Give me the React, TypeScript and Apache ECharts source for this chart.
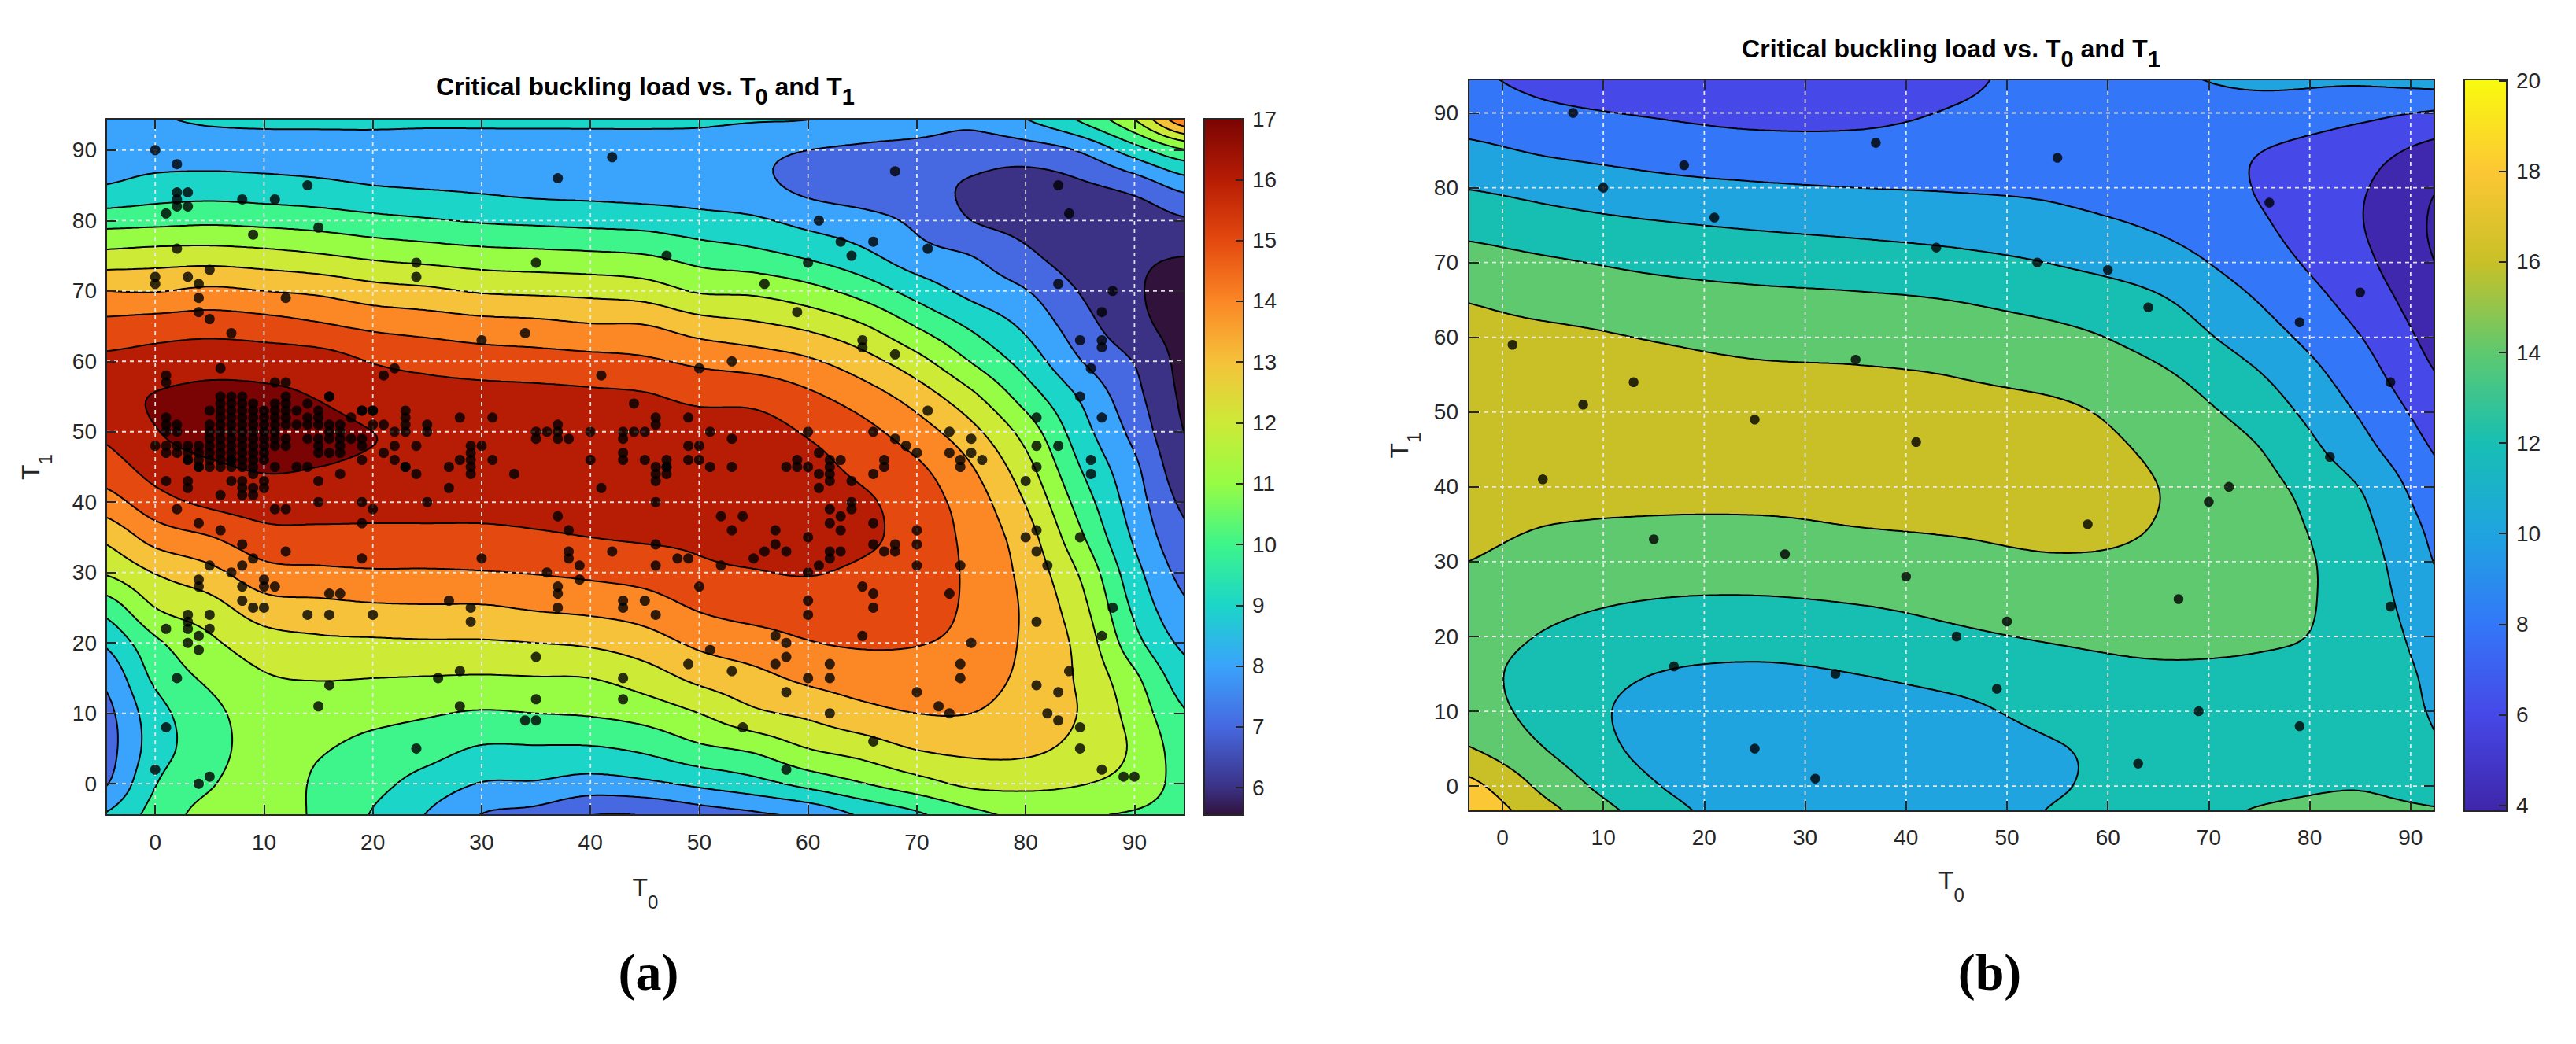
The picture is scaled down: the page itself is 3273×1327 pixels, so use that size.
import React, { useEffect, useRef } from "react";
import * as echarts from "echarts";

// ================= Plot (a) data =================
const A_T0_NODES = [-5, 0, 5, 10, 15, 20, 25, 30, 35, 40, 45, 50, 55, 60, 65, 70, 75, 80, 85, 90, 95];
const A_T1_NODES = [95, 90, 85, 80, 75, 70, 65, 60, 55, 50, 45, 40, 35, 30, 25, 20, 15, 10, 5, 0, -5];
// one column per T0 node: critical buckling load at each T1 node
const A_LOAD = [
  [8.8, 8.6, 9.0, 10.6, 12.3, 14.0, 15.3, 16.2, 16.6, 16.15, 15.5, 14.5, 13.15, 12.05, 10.3, 9.05, 8.1, 7.6, 7.5, 7.8, 9.1],
  [8.95, 8.6, 9.35, 10.7, 12.45, 13.95, 15.5, 16.4, 17.05, 16.95, 16.4, 15.6, 14.4, 13.05, 12.0, 10.8, 10.2, 9.6, 9.5, 9.95, 10.4],
  [9.2, 8.6, 9.45, 10.8, 12.5, 14.2, 15.6, 16.6, 17.25, 17.4, 16.85, 16.2, 14.95, 13.7, 12.6, 11.8, 11.2, 10.7, 10.6, 10.9, 11.4],
  [9.3, 8.6, 9.35, 10.7, 12.35, 14.0, 15.45, 16.55, 17.2, 17.45, 17.1, 16.45, 15.65, 14.65, 13.55, 12.55, 11.9, 11.5, 11.4, 11.5, 11.6],
  [9.3, 8.6, 9.2, 10.55, 12.1, 13.8, 15.15, 16.45, 16.95, 17.3, 17.0, 16.45, 15.7, 14.8, 13.7, 12.8, 12.05, 11.5, 11.1, 10.85, 10.8],
  [9.3, 8.6, 9.0, 10.3, 11.8, 13.4, 14.8, 15.95, 16.5, 17.0, 16.85, 16.4, 15.7, 14.9, 13.85, 12.85, 12.0, 11.3, 10.7, 10.3, 9.9],
  [9.3, 8.5, 8.9, 10.1, 11.6, 13.2, 14.6, 15.7, 16.4, 16.85, 16.8, 16.4, 15.7, 14.9, 13.9, 12.9, 11.95, 11.1, 10.4, 9.6, 8.9],
  [9.3, 8.5, 8.8, 9.9, 11.4, 12.9, 14.4, 15.5, 16.35, 16.75, 16.7, 16.4, 15.7, 14.95, 13.9, 12.9, 11.9, 10.9, 9.9, 8.95, 7.9],
  [9.3, 8.5, 8.65, 9.8, 11.3, 12.8, 14.3, 15.4, 16.3, 16.7, 16.65, 16.4, 15.85, 15.05, 14.1, 13.0, 11.95, 11.0, 9.9, 8.9, 7.6],
  [9.3, 8.5, 8.6, 9.7, 11.2, 12.7, 14.1, 15.3, 16.2, 16.65, 16.6, 16.4, 16.0, 15.2, 14.25, 13.15, 12.0, 11.1, 9.9, 8.6, 6.9],
  [9.3, 8.5, 8.5, 9.6, 11.05, 12.5, 14.05, 15.15, 16.1, 16.6, 16.6, 16.35, 16.1, 15.4, 14.5, 13.55, 12.5, 11.4, 10.2, 8.8, 6.9],
  [9.25, 8.5, 8.45, 9.35, 10.6, 11.9, 13.5, 14.8, 15.75, 16.5, 16.55, 16.35, 16.15, 15.8, 15.1, 14.2, 13.25, 12.0, 10.8, 9.2, 7.4],
  [9.15, 8.25, 8.25, 9.15, 10.3, 11.8, 13.2, 14.55, 15.7, 16.4, 16.6, 16.55, 16.35, 15.95, 15.4, 14.55, 13.7, 12.8, 11.2, 9.65, 7.7],
  [9.1, 8.0, 7.75, 8.7, 9.85, 11.35, 12.8, 14.15, 15.2, 15.9, 16.3, 16.45, 16.35, 16.05, 15.5, 14.95, 14.2, 13.2, 12.0, 10.3, 8.1],
  [8.7, 7.85, 7.45, 8.35, 9.25, 10.6, 12.1, 13.4, 14.5, 15.3, 15.75, 16.15, 16.15, 15.85, 15.45, 15.1, 14.45, 13.7, 12.45, 10.95, 9.0],
  [8.6, 7.7, 7.3, 7.8, 8.4, 9.6, 10.95, 12.35, 13.55, 14.45, 15.15, 15.5, 15.65, 15.6, 15.45, 15.05, 14.5, 14.0, 13.05, 11.6, 9.7],
  [8.3, 7.5, 6.9, 7.0, 8.0, 8.7, 9.85, 10.95, 12.25, 13.3, 14.05, 14.5, 14.7, 14.8, 14.8, 14.7, 14.45, 14.0, 13.25, 12.2, 10.6],
  [9.1, 7.55, 6.6, 6.7, 7.2, 8.05, 8.8, 9.6, 10.55, 11.6, 12.35, 12.95, 13.45, 13.7, 13.85, 13.85, 13.75, 13.5, 13.2, 12.25, 11.1],
  [10.3, 8.1, 6.85, 6.5, 6.5, 6.95, 7.45, 8.05, 8.9, 9.45, 10.0, 10.6, 11.2, 11.9, 12.35, 12.7, 12.85, 12.95, 12.7, 12.05, 11.0],
  [12.2, 9.55, 7.4, 6.4, 6.15, 6.1, 6.3, 6.95, 7.3, 7.7, 8.2, 8.5, 8.85, 9.35, 9.8, 10.35, 11.2, 11.6, 11.85, 11.6, 10.85],
  [15.3, 11.0, 8.45, 6.9, 6.0, 5.75, 5.65, 5.65, 5.75, 5.9, 6.2, 6.7, 7.15, 7.6, 8.1, 8.7, 9.35, 10.0, 10.4, 10.6, 10.6],
];
const A_LEVELS = [6, 7, 8, 9, 10, 11, 12, 13, 14, 15, 16, 17];
const A_RANGE_T0 = [-4.5, 94.6];
const A_RANGE_T1 = [-4.45, 94.45];
const A_TICKS = [0, 10, 20, 30, 40, 50, 60, 70, 80, 90];
const A_CBAR_RANGE = [5.55, 17.0];
const A_CBAR_TICKS = [6, 7, 8, 9, 10, 11, 12, 13, 14, 15, 16, 17];

// sample points: dense cluster listed column by column [T0, [T1...]]
const A_CLUSTER = [
  [0, [48]], [1, [52, 51, 50, 48, 47]], [2, [51, 50, 48, 47]], [3, [48, 47, 46]], [4, [48, 47, 46, 45]],
  [5, [53, 51, 50, 49, 48, 47, 46, 45]], [6, [55, 54, 53, 52, 51, 50, 49, 48, 47, 46, 45]],
  [7, [55, 54, 53, 52, 51, 50, 49, 48, 47, 46, 45]], [8, [55, 54, 53, 52, 51, 50, 49, 48, 47, 46, 45]],
  [9, [54, 53, 52, 51, 50, 49, 48, 47, 46, 45]], [10, [53, 52, 51, 50, 49, 48, 47, 46]],
  [11, [54, 53, 52, 51, 50, 49, 48]], [12, [55, 54, 53, 52, 51, 49, 48]], [13, [53, 51]],
  [14, [54, 52, 51, 49]], [15, [53, 52, 51, 49, 48, 47]], [16, [55, 51, 50, 49, 47]],
  [17, [51, 50, 49, 48, 47]], [18, [52, 49]], [19, [53, 49, 48, 46]], [20, [53, 51]],
  [21, [51, 47]], [22, [50, 48, 46]], [23, [53, 52, 51, 50, 45]], [24, [48]], [25, [51, 50]],
];
const A_POINTS_OTHER = [
  [0, 90], [2, 88], [2, 84], [2, 83], [2, 82], [3, 84], [3, 82], [1, 81], [8, 83], [11, 83], [14, 85], [15, 79],
  [9, 78], [2, 76], [24, 74], [24, 72], [35, 74], [37, 86], [42, 89], [47, 75], [0, 72], [0, 71], [3, 72], [5, 73],
  [4, 71], [4, 69], [4, 67], [5, 66], [7, 64], [12, 69], [30, 63], [34, 64], [6, 59], [1, 58], [1, 57], [21, 58],
  [22, 59], [11, 57], [12, 57], [41, 58], [16, 55], [44, 54], [19, 53], [20, 53], [28, 52], [31, 52], [46, 52], [46, 51],
  [28, 46], [29, 48], [29, 47], [29, 46], [29, 45], [30, 48], [31, 46], [27, 45], [33, 44], [35, 50], [35, 49], [36, 50],
  [37, 51], [37, 50], [37, 49], [38, 49], [40, 50], [40, 46], [43, 50], [43, 49], [43, 47], [43, 46], [44, 50], [45, 50],
  [45, 46], [46, 45], [47, 45],
  [3, 46], [7, 46], [4, 45], [11, 45], [13, 45], [14, 45], [23, 45], [9, 44], [17, 44], [24, 44], [29, 44], [46, 44],
  [1, 43], [3, 43], [7, 43], [8, 43], [10, 43], [15, 43], [46, 43], [3, 42], [8, 42], [9, 42], [10, 42], [27, 42], [41, 42],
  [6, 41], [8, 41], [9, 41], [15, 40], [19, 40], [25, 40], [46, 40], [2, 39], [11, 39], [12, 39], [20, 39], [37, 38],
  [4, 37], [19, 37], [6, 36], [38, 36], [8, 34], [46, 34], [12, 33], [38, 33], [42, 33], [9, 32], [19, 32], [30, 32],
  [38, 32], [5, 31], [8, 31], [39, 31], [46, 31], [7, 30], [36, 30], [4, 29], [10, 29], [39, 29], [4, 28], [8, 28],
  [10, 28], [11, 28], [37, 28], [16, 27], [17, 27], [37, 27], [8, 26], [27, 26], [43, 26], [45, 26], [9, 25], [10, 25],
  [29, 25], [37, 25], [43, 25], [3, 24], [5, 24], [14, 24], [16, 24], [20, 24], [46, 24], [3, 23], [29, 23], [1, 22],
  [3, 22], [5, 22], [4, 21], [3, 20], [4, 19], [35, 18], [28, 16], [2, 15], [26, 15], [43, 15], [16, 14], [35, 12],
  [43, 12], [15, 11], [28, 11], [34, 9], [35, 9], [1, 8], [24, 5], [0, 2], [5, 1], [4, 0],
  [68, 87], [83, 85], [84, 81], [61, 80], [63, 77], [66, 77], [64, 75], [71, 76], [60, 74], [56, 71], [59, 67],
  [83, 71], [88, 70], [87, 67], [65, 63], [65, 62], [68, 61], [85, 63], [87, 63], [87, 62], [53, 60], [50, 59], [86, 59],
  [85, 55], [71, 53], [81, 52], [87, 52], [49, 52], [51, 50], [60, 50], [66, 50], [73, 50], [53, 49], [49, 48], [50, 48],
  [68, 49], [69, 48], [75, 49], [81, 48], [83, 48], [61, 47], [62, 46], [63, 46], [70, 47], [73, 47], [75, 47], [76, 46],
  [86, 46], [47, 46], [49, 46], [50, 46], [58, 45], [59, 46], [59, 45], [60, 45], [67, 46], [67, 45], [74, 46], [74, 45],
  [51, 45], [53, 45], [47, 45], [81, 45], [47, 44], [61, 44], [61, 42], [62, 45], [62, 44], [62, 43], [64, 43], [66, 44],
  [62, 39], [63, 38], [62, 37], [63, 36], [64, 40], [64, 39], [66, 37], [52, 38], [54, 38], [53, 36], [57, 36], [56, 33],
  [57, 34], [58, 33], [60, 35], [62, 33], [63, 33], [62, 32], [48, 32], [49, 32], [52, 31], [55, 32], [60, 30], [61, 31],
  [66, 34], [67, 33], [68, 34], [68, 33], [70, 36], [70, 34], [70, 31], [74, 31], [50, 28], [65, 28], [66, 27], [66, 25],
  [73, 27], [60, 26], [60, 24], [57, 21], [58, 20], [58, 18], [65, 21], [75, 20], [51, 19], [49, 17], [53, 16], [57, 17],
  [62, 17], [62, 15], [60, 15], [58, 13], [74, 17], [74, 15], [70, 13], [72, 11], [73, 10], [62, 10], [54, 8], [66, 6],
  [58, 2], [80, 43], [86, 44], [81, 36], [80, 35], [81, 33], [82, 31], [85, 35], [88, 25], [81, 23], [87, 21], [84, 16],
  [81, 14], [83, 13], [82, 10], [83, 9], [85, 8], [85, 5], [87, 2], [89, 1], [90, 1],
];

// ================= Plot (b) data =================
const B_T0_NODES = [-5, 5, 15, 25, 35, 45, 55, 65, 75, 85, 95];
const B_T1_NODES = [95, 90, 85, 80, 75, 70, 65, 60, 55, 50, 45, 40, 35, 30, 25, 20, 15, 10, 5, 0, -5];
const B_LOAD = [
  [8.3, 9.1, 10.55, 12.0, 13.5, 14.8, 16.0, 16.6, 17.0, 17.2, 17.2, 17.0, 16.7, 16.1, 15.5, 14.9, 14.7, 15.2, 16.4, 19.0, 20.3],
  [7.5, 8.3, 9.7, 11.3, 12.75, 14.2, 15.3, 16.4, 17.0, 17.3, 17.35, 17.1, 16.0, 15.2, 14.5, 13.8, 13.2, 13.1, 13.8, 15.2, 16.8],
  [7.2, 7.85, 9.2, 10.6, 12.2, 13.6, 14.8, 15.9, 16.6, 17.0, 17.1, 16.8, 15.75, 14.85, 14.0, 13.0, 12.0, 11.4, 11.4, 12.15, 13.3],
  [6.9, 7.45, 8.8, 10.25, 11.8, 13.2, 14.5, 15.5, 16.3, 16.8, 17.0, 16.7, 15.75, 14.8, 13.9, 12.7, 11.7, 10.9, 10.6, 10.7, 11.0],
  [6.9, 7.5, 8.7, 10.0, 11.5, 12.9, 14.3, 15.3, 16.2, 16.6, 16.8, 16.6, 16.05, 15.15, 14.15, 13.05, 12.0, 11.2, 10.7, 10.6, 10.7],
  [7.6, 8.15, 8.9, 9.85, 11.15, 12.55, 13.95, 15.0, 15.95, 16.4, 16.6, 16.5, 16.2, 15.5, 14.6, 13.7, 12.6, 11.6, 11.0, 10.8, 10.8],
  [8.8, 8.8, 9.1, 9.65, 10.6, 11.9, 13.2, 14.5, 15.4, 16.3, 16.6, 16.6, 16.4, 15.85, 15.1, 14.2, 13.3, 12.6, 11.9, 11.85, 12.3],
  [9.7, 9.1, 8.9, 8.95, 9.75, 10.9, 12.2, 13.2, 14.3, 15.1, 15.7, 16.0, 15.95, 15.7, 15.3, 14.5, 13.7, 13.0, 12.7, 12.8, 13.1],
  [10.4, 9.2, 8.05, 7.9, 8.25, 8.9, 9.9, 10.9, 12.1, 13.1, 14.05, 14.6, 14.9, 15.0, 14.8, 14.3, 13.6, 13.2, 13.2, 13.6, 14.3],
  [10.4, 8.5, 6.85, 6.2, 6.1, 6.5, 7.2, 8.05, 8.9, 9.8, 10.7, 11.95, 12.5, 12.9, 13.1, 13.3, 13.4, 13.5, 13.7, 13.95, 14.4],
  [11.1, 7.65, 5.0, 3.6, 3.2, 3.4, 4.1, 4.7, 5.4, 6.4, 7.2, 7.8, 8.7, 9.2, 9.8, 10.4, 11.0, 11.3, 11.9, 13.3, 14.3],
];
const B_LEVELS = [4, 6, 8, 10, 12, 14, 16, 18];
const B_RANGE_T0 = [-3.35, 92.35];
const B_RANGE_T1 = [-3.35, 94.47];
const B_TICKS = [0, 10, 20, 30, 40, 50, 60, 70, 80, 90];
const B_CBAR_RANGE = [3.87, 20.03];
const B_CBAR_TICKS = [4, 6, 8, 10, 12, 14, 16, 18, 20];
const B_POINTS = [
  [7, 90], [10, 80], [18, 83], [21, 76], [37, 86], [43, 72], [1, 59], [13, 54], [8, 51], [25, 49], [35, 57], [41, 46],
  [55, 84], [53, 70], [60, 69], [64, 64], [76, 78], [85, 66], [79, 62], [88, 54], [82, 44], [4, 41], [15, 33], [28, 31],
  [40, 28], [45, 20], [17, 16], [33, 15], [49, 13], [25, 5], [31, 1], [72, 40], [70, 38], [58, 35], [67, 25], [88, 24],
  [50, 22], [69, 10], [79, 8], [63, 3],
];

// ================= colours (styling) =================
const A_BOTTOM_COLOR = "#30123b";
const A_BAND_COLORS = ["#3b3185", "#4668e0", "#3aa3fc", "#1bd6c8", "#3df58a", "#96fc44", "#cdea37", "#f5c23a", "#fb8725", "#e4490f", "#b71c04", "#7a0403"];
const B_BOTTOM_COLOR = "#3e26a8";
const B_BAND_COLORS = ["#3f28ad", "#4648e8", "#3377f8", "#1fa4e0", "#17bfb3", "#5ec96f", "#c9c027", "#fcc734"];
const B_TOP_COLOR = "#f9fb0e";

const FONT = "'Liberation Sans', Arial, Helvetica, sans-serif";
const INK = "#262626";

// ================= helpers =================
function clampI(i: number, lo: number, hi: number) { return i < lo ? lo : i > hi ? hi : i; }
function cr(p0: number, p1: number, p2: number, p3: number, t: number) {
  return 0.5 * (2 * p1 + (-p0 + p2) * t + (2 * p0 - 5 * p1 + 4 * p2 - p3) * t * t + (-p0 + 3 * p1 - 3 * p2 + p3) * t * t * t);
}
function sampleGrid(xs: number[], ys: number[], Z: number[][], x: number, y: number) {
  const nx = xs.length, ny = ys.length;
  const fx = (x - xs[0]) / (xs[1] - xs[0]);
  const fy = (y - ys[0]) / (ys[1] - ys[0]);
  const i = clampI(Math.floor(fx), 0, nx - 2), j = clampI(Math.floor(fy), 0, ny - 2);
  const tx = fx - i, ty = fy - j;
  const g = (a: number, b: number) => Z[clampI(a, 0, nx - 1)][clampI(b, 0, ny - 1)];
  const col = (k: number) => cr(g(i + k, j - 1), g(i + k, j), g(i + k, j + 1), g(i + k, j + 2), ty);
  return cr(col(-1), col(0), col(1), col(2), tx);
}
function buildField(xs: number[], ys: number[], Z: number[][], xr: number[], yr: number[], nx: number, ny: number) {
  const fx: number[] = [], fy: number[] = [];
  for (let a = 0; a <= nx; a++) fx.push(xr[0] + ((xr[1] - xr[0]) * a) / nx);
  for (let b = 0; b <= ny; b++) fy.push(yr[0] + ((yr[1] - yr[0]) * b) / ny);
  const F = fx.map((x) => fy.map((y) => sampleGrid(xs, ys, Z, x, y)));
  return { fx, fy, F };
}
const r1 = (n: number) => Math.round(n * 10) / 10;
function polyStr(pts: number[][]) {
  let s = "M" + r1(pts[0][0]) + " " + r1(pts[0][1]);
  for (let k = 1; k < pts.length; k++) s += "L" + r1(pts[k][0]) + " " + r1(pts[k][1]);
  return s + "Z";
}
function triClip(p: number[][], v: number[], L: number) {
  const out: number[][] = [];
  for (let i = 0; i < 3; i++) {
    const j = (i + 1) % 3;
    const ai = v[i] >= L, aj = v[j] >= L;
    if (ai) out.push(p[i]);
    if (ai !== aj) {
      const t = (L - v[i]) / (v[j] - v[i]);
      out.push([p[i][0] + t * (p[j][0] - p[i][0]), p[i][1] + t * (p[j][1] - p[i][1])]);
    }
  }
  return out.length >= 3 ? polyStr(out) : "";
}
function triSeg(p: number[][], v: number[], L: number) {
  const pts: number[][] = [];
  for (let i = 0; i < 3; i++) {
    const j = (i + 1) % 3;
    if ((v[i] >= L) !== (v[j] >= L)) {
      const t = (L - v[i]) / (v[j] - v[i]);
      pts.push([p[i][0] + t * (p[j][0] - p[i][0]), p[i][1] + t * (p[j][1] - p[i][1])]);
    }
  }
  if (pts.length !== 2) return "";
  return "M" + r1(pts[0][0]) + " " + r1(pts[0][1]) + "L" + r1(pts[1][0]) + " " + r1(pts[1][1]);
}

function makeContourRender(field: any, levels: number[], bandColors: string[], bottomColor: string, ticks: number[], xr: number[], yr: number[]) {
  return (params: any, api: any) => {
    const { fx, fy, F } = field;
    const nx = fx.length - 1, ny = fy.length - 1;
    const P = fx.map((x: number) => fy.map((y: number) => api.coord([x, y])));
    const children: any[] = [];
    const c0 = api.coord([xr[0], yr[0]]), c1 = api.coord([xr[1], yr[1]]);
    children.push({
      type: "rect", silent: true,
      shape: { x: Math.min(c0[0], c1[0]), y: Math.min(c0[1], c1[1]), width: Math.abs(c1[0] - c0[0]), height: Math.abs(c1[1] - c0[1]) },
      style: { fill: bottomColor },
    });
    levels.forEach((L, li) => {
      let d = "";
      for (let b = 0; b < ny; b++) {
        let run = -1;
        for (let a = 0; a < nx; a++) {
          const v00 = F[a][b], v10 = F[a + 1][b], v11 = F[a + 1][b + 1], v01 = F[a][b + 1];
          if (v00 >= L && v10 >= L && v11 >= L && v01 >= L) { if (run < 0) run = a; continue; }
          if (run >= 0) { d += polyStr([P[run][b], P[a][b], P[a][b + 1], P[run][b + 1]]); run = -1; }
          if (v00 >= L || v10 >= L || v11 >= L || v01 >= L) {
            d += triClip([P[a][b], P[a + 1][b], P[a + 1][b + 1]], [v00, v10, v11], L);
            d += triClip([P[a][b], P[a + 1][b + 1], P[a][b + 1]], [v00, v11, v01], L);
          }
        }
        if (run >= 0) d += polyStr([P[run][b], P[nx][b], P[nx][b + 1], P[run][b + 1]]);
      }
      if (d) children.push({ type: "path", silent: true, shape: { pathData: d }, style: { fill: bandColors[li], lineWidth: 0 } });
    });
    let dl = "";
    for (let a = 0; a < nx; a++) {
      for (let b = 0; b < ny; b++) {
        const v00 = F[a][b], v10 = F[a + 1][b], v11 = F[a + 1][b + 1], v01 = F[a][b + 1];
        const mn = Math.min(v00, v10, v11, v01), mx = Math.max(v00, v10, v11, v01);
        for (const L of levels) {
          if (L <= mn || L > mx) continue;
          dl += triSeg([P[a][b], P[a + 1][b], P[a + 1][b + 1]], [v00, v10, v11], L);
          dl += triSeg([P[a][b], P[a + 1][b + 1], P[a][b + 1]], [v00, v11, v01], L);
        }
      }
    }
    children.push({ type: "path", silent: true, shape: { pathData: dl }, style: { fill: null, stroke: "#000", lineWidth: 2, lineCap: "round", lineJoin: "round" } });
    const gridStyle = { stroke: "#ececec", lineWidth: 1.8, lineDash: [5, 5], opacity: 0.95 };
    ticks.forEach((t) => {
      const p = api.coord([t, yr[0]]), q = api.coord([t, yr[1]]);
      children.push({ type: "line", silent: true, shape: { x1: p[0], y1: p[1], x2: q[0], y2: q[1] }, style: gridStyle });
      const r = api.coord([xr[0], t]), s = api.coord([xr[1], t]);
      children.push({ type: "line", silent: true, shape: { x1: r[0], y1: r[1], x2: s[0], y2: s[1] }, style: gridStyle });
    });
    return { type: "group", children };
  };
}

function makeCbarRender(range: number[], stops: any[]) {
  return (params: any, api: any) => {
    const p0 = api.coord([0, range[0]]), p1 = api.coord([1, range[1]]);
    const shape = { x: p0[0], y: p1[1], width: p1[0] - p0[0], height: p0[1] - p1[1] };
    return {
      type: "group",
      children: [
        { type: "rect", silent: true, shape, style: { fill: new echarts.graphic.LinearGradient(0, 1, 0, 0, stops) } },
        { type: "rect", silent: true, shape, style: { fill: null, stroke: INK, lineWidth: 2 } },
      ],
    };
  };
}

const FIELD_A = buildField(A_T0_NODES, A_T1_NODES, A_LOAD, A_RANGE_T0, A_RANGE_T1, 200, 180);
const FIELD_B = buildField(B_T0_NODES, B_T1_NODES, B_LOAD, B_RANGE_T0, B_RANGE_T1, 180, 180);

const A_POINTS = [
  ...A_CLUSTER.flatMap((c: any) => c[1].map((y: number) => [c[0], y])),
  ...A_POINTS_OTHER,
];

function cbarStops(levels: number[], colors: string[], bottom: string, range: number[], top?: string) {
  const span = range[1] - range[0];
  const s: any[] = [{ offset: 0, color: bottom }];
  levels.forEach((L, i) => {
    const o = (L - range[0]) / span;
    if (o > 0 && o <= 1) s.push({ offset: o, color: colors[i] });
  });
  if (top) s.push({ offset: 1, color: top });
  return s;
}

const nameRich = {
  t: { fontSize: 32, lineHeight: 60, fontFamily: FONT, color: INK },
  s: { fontSize: 24, lineHeight: 24, padding: [36, 0, 0, 0], fontFamily: FONT, color: INK },
};
const axisLineStyle = { color: INK, width: 2 };
const labelStyle = { fontSize: 28, color: INK, fontFamily: FONT };

function mainXAxes(gridIndex: number, range: number[], ticks: number[], nameGap: number, labelMargin: number) {
  return [
    {
      gridIndex, type: "value", position: "bottom", min: range[0], max: range[1], z: 10,
      axisLine: { show: true, onZero: false, lineStyle: axisLineStyle },
      axisTick: { show: true, inside: true, length: 13, customValues: ticks, lineStyle: axisLineStyle },
      axisLabel: { ...labelStyle, margin: labelMargin, customValues: ticks },
      splitLine: { show: false },
      name: "{t|T}{s|0}", nameLocation: "middle", nameGap, nameTextStyle: { rich: nameRich },
    },
    {
      gridIndex, type: "value", position: "top", min: range[0], max: range[1], z: 10,
      axisLine: { show: true, onZero: false, lineStyle: axisLineStyle },
      axisTick: { show: true, inside: true, length: 13, customValues: ticks, lineStyle: axisLineStyle },
      axisLabel: { show: false }, splitLine: { show: false },
    },
  ];
}
function mainYAxes(gridIndex: number, range: number[], ticks: number[], nameGap: number, labelMargin: number) {
  return [
    {
      gridIndex, type: "value", position: "left", min: range[0], max: range[1], z: 10,
      axisLine: { show: true, onZero: false, lineStyle: axisLineStyle },
      axisTick: { show: true, inside: true, length: 13, customValues: ticks, lineStyle: axisLineStyle },
      axisLabel: { ...labelStyle, margin: labelMargin, customValues: ticks },
      splitLine: { show: false },
      name: "{t|T}{s|1}", nameLocation: "middle", nameGap, nameRotate: 90, nameTextStyle: { rich: nameRich },
    },
    {
      gridIndex, type: "value", position: "right", min: range[0], max: range[1], z: 10,
      axisLine: { show: true, onZero: false, lineStyle: axisLineStyle },
      axisTick: { show: true, inside: true, length: 13, customValues: ticks, lineStyle: axisLineStyle },
      axisLabel: { show: false }, splitLine: { show: false },
    },
  ];
}
function cbarYAxis(gridIndex: number, range: number[], ticks: number[], margin: number) {
  return {
    gridIndex, type: "value", position: "right", min: range[0], max: range[1], z: 10,
    axisLine: { show: false, onZero: false },
    axisTick: { show: true, inside: true, length: 10, customValues: ticks, lineStyle: axisLineStyle },
    axisLabel: { ...labelStyle, margin, customValues: ticks },
    splitLine: { show: false },
  };
}

const titleRich = {
  b: { fontSize: 32, fontWeight: "bold", lineHeight: 56, fontFamily: FONT, fill: "#000" },
  s: { fontSize: 29, fontWeight: "bold", lineHeight: 29, padding: [26, 0, 0, 0], fontFamily: FONT, fill: "#000" },
};
const TITLE_TEXT = "{b|Critical buckling load vs. T}{s|0}{b| and T}{s|1}";

function buildOption() {
  return {
    animation: false,
    backgroundColor: "#fff",
    grid: [
      { left: 135, top: 151, width: 1370, height: 885 },
      { left: 1530, top: 151, width: 50, height: 885 },
      { left: 1866, top: 101, width: 1227, height: 930 },
      { left: 3131, top: 101, width: 54, height: 930 },
    ],
    // xAxis indices: 0 A-bottom, 1 A-top, 2 A-colorbar, 3 B-bottom, 4 B-top, 5 B-colorbar
    xAxis: [
      ...mainXAxes(0, A_RANGE_T0, A_TICKS, 62, 20),
      { gridIndex: 1, type: "value", min: 0, max: 1, show: false },
      ...mainXAxes(2, B_RANGE_T0, B_TICKS, 58, 19),
      { gridIndex: 3, type: "value", min: 0, max: 1, show: false },
    ],
    // yAxis indices: 0 A-left, 1 A-right, 2 A-colorbar, 3 B-left, 4 B-right, 5 B-colorbar
    yAxis: [
      ...mainYAxes(0, A_RANGE_T1, A_TICKS, 66, 12),
      cbarYAxis(1, A_CBAR_RANGE, A_CBAR_TICKS, 11),
      ...mainYAxes(2, B_RANGE_T1, B_TICKS, 58, 13),
      cbarYAxis(3, B_CBAR_RANGE, B_CBAR_TICKS, 12),
    ],
    graphic: [
      { type: "text", x: 820, y: 110, silent: true, style: { text: TITLE_TEXT, rich: titleRich, align: "center", verticalAlign: "middle" } },
      { type: "text", x: 2479, y: 62, silent: true, style: { text: TITLE_TEXT, rich: titleRich, align: "center", verticalAlign: "middle" } },
      { type: "text", x: 824, y: 1235, silent: true, style: { text: "(a)", fontSize: 66, fontWeight: "bold", fontFamily: "'Liberation Serif', 'DejaVu Serif', serif", fill: "#000", align: "center", verticalAlign: "middle" } },
      { type: "text", x: 2528, y: 1235, silent: true, style: { text: "(b)", fontSize: 66, fontWeight: "bold", fontFamily: "'Liberation Serif', 'DejaVu Serif', serif", fill: "#000", align: "center", verticalAlign: "middle" } },
    ],
    series: [
      {
        type: "custom", xAxisIndex: 0, yAxisIndex: 0, z: 2, silent: true, clip: true,
        data: [[45, 45]],
        renderItem: makeContourRender(FIELD_A, A_LEVELS, A_BAND_COLORS, A_BOTTOM_COLOR, A_TICKS, A_RANGE_T0, A_RANGE_T1),
      },
      {
        type: "scatter", xAxisIndex: 0, yAxisIndex: 0, z: 4, silent: true,
        symbol: "circle", symbolSize: 13, itemStyle: { color: "#000" }, data: A_POINTS,
      },
      {
        type: "custom", xAxisIndex: 2, yAxisIndex: 2, z: 2, silent: true,
        data: [[0.5, 11]],
        renderItem: makeCbarRender(A_CBAR_RANGE, cbarStops(A_LEVELS, A_BAND_COLORS, A_BOTTOM_COLOR, A_CBAR_RANGE)),
      },
      {
        type: "custom", xAxisIndex: 3, yAxisIndex: 3, z: 2, silent: true, clip: true,
        data: [[45, 45]],
        renderItem: makeContourRender(FIELD_B, B_LEVELS, B_BAND_COLORS, B_BOTTOM_COLOR, B_TICKS, B_RANGE_T0, B_RANGE_T1),
      },
      {
        type: "scatter", xAxisIndex: 3, yAxisIndex: 3, z: 4, silent: true,
        symbol: "circle", symbolSize: 12.5, itemStyle: { color: "#000" }, data: B_POINTS,
      },
      {
        type: "custom", xAxisIndex: 5, yAxisIndex: 5, z: 2, silent: true,
        data: [[0.5, 12]],
        renderItem: makeCbarRender(B_CBAR_RANGE, cbarStops(B_LEVELS, B_BAND_COLORS, B_BOTTOM_COLOR, B_CBAR_RANGE, B_TOP_COLOR)),
      },
    ],
  };
}

export default function App() {
  const ref = useRef<HTMLDivElement>(null);
  useEffect(() => {
    const chart = echarts.init(ref.current as HTMLDivElement, null, { renderer: "svg" });
    chart.setOption(buildOption() as any);
    return () => chart.dispose();
  }, []);
  return <div ref={ref} style={{ position: "absolute", left: 0, top: 0, width: 3273, height: 1327, background: "#fff" }} />;
}
